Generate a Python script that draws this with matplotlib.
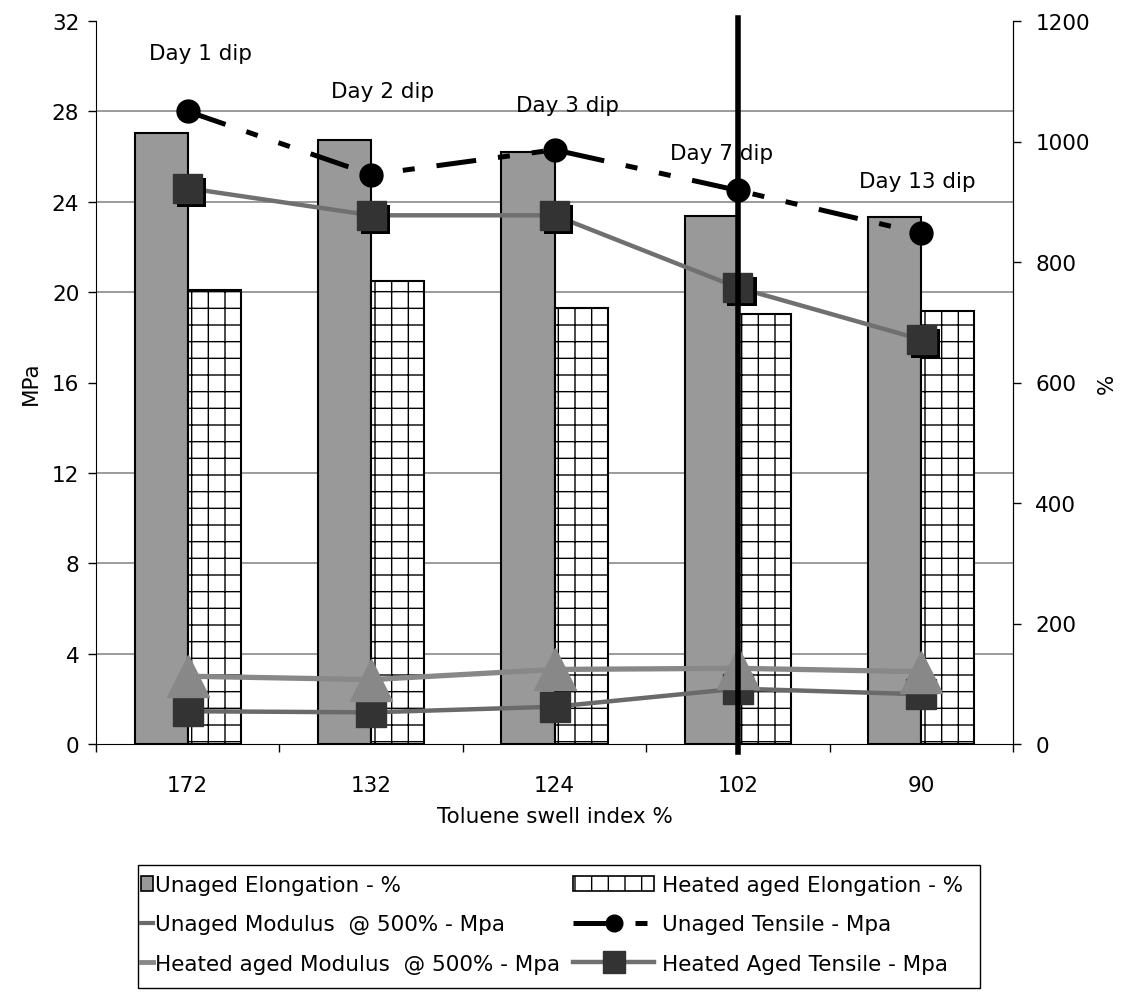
import numpy as np
import matplotlib.pyplot as plt
import matplotlib.patheffects as pe
from matplotlib.lines import Line2D
from matplotlib.patches import Patch, Rectangle

plt.rcParams['font.family'] = ['DejaVu Sans']
plt.rcParams['font.size'] = 15.5
plt.rcParams['hatch.linewidth'] = 1.0
plt.rcParams['hatch.color'] = '#7a7a7a'

# toluene swell index for each dip
swell_index = ['172', '132', '124', '102', '90']
dip_labels = ['Day 1 dip', 'Day 2 dip', 'Day 3 dip', 'Day 7 dip', 'Day 13 dip']
marked_index = '102'

# elongation at break, % (right axis)
unaged_elong = [1014, 1003, 982, 877, 874]
heated_elong = [754, 768, 724, 714, 718]

# tensile / modulus, MPa (left axis)
unaged_tensile = [28.0, 25.2, 26.3, 24.5, 22.6]
heated_tensile = [24.6, 23.4, 23.4, 20.2, 17.9]
unaged_modulus = [1.45, 1.4, 1.65, 2.45, 2.2]
heated_modulus = [3.0, 2.85, 3.3, 3.35, 3.2]

# where each day label sits relative to its point (points)
label_offsets = [(9, 42), (8, 60), (9, 32), (-12, 27), (-3, 38)]

x = np.arange(len(swell_index))
W, H = 1126, 995

fig = plt.figure(figsize=(W / 100, H / 100), dpi=100)
ax = fig.add_axes([96 / W, 1 - 745 / H, 917 / W, 723 / H])
ax2 = ax.twinx()
ax.set_zorder(2)
ax2.set_zorder(1)
ax.patch.set_visible(False)

# bars on the % axis
bw = 0.29
ax2.bar(x, unaged_elong, width=-bw, align='edge', color='#999999',
        edgecolor='black', linewidth=1.5, zorder=2)
ax2.bar(x, heated_elong, width=bw, align='edge', color='white',
        edgecolor='black', linewidth=1.5, hatch='+', zorder=2)
ax2.set_ylim(0, 1200)
ax2.set_yticks(np.arange(0, 1201, 200))
ax2.set_yticks(np.arange(0, 1201, 150), minor=True)
ax2.grid(which='minor', axis='y', color='#808080', linewidth=1.1, zorder=0)
ax2.set_axisbelow(True)
ax2.tick_params(axis='y', which='major', direction='out', length=6, width=1, pad=10)
ax2.tick_params(axis='y', which='minor', length=0)
ax2.set_ylabel('%', labelpad=5)

# lines on the MPa axis
ax.plot(x, heated_tensile, color='#707070', linewidth=3.2, zorder=3)
ax.plot(x, heated_tensile, linestyle='none', marker='s', markersize=21,
        color='#333333', zorder=4,
        path_effects=[pe.SimplePatchShadow(offset=(3, -3), shadow_rgbFace='black', alpha=1.0),
                      pe.Normal()])
ax.plot(x, unaged_tensile, color='black', linewidth=3.6,
        linestyle=(0, (8, 4.4, 2.4, 4.4, 2.4, 4.4)),
        marker='o', markersize=16.5, zorder=5)
ax.plot(x, unaged_modulus, color='#6a6a6a', linewidth=3.2, marker='s',
        markersize=21, markerfacecolor='#333333', markeredgecolor='#333333', zorder=3)
ax.plot(x, heated_modulus, color='#888888', linewidth=3.8, marker='^',
        markersize=30, zorder=4)

for i, txt in enumerate(dip_labels):
    ax.annotate(txt, (x[i], unaged_tensile[i]), xytext=label_offsets[i],
                textcoords='offset points', ha='center', va='center', zorder=6)

ax.axvline(swell_index.index(marked_index), ymin=-0.011, ymax=1.004,
           color='black', linewidth=4, clip_on=False, zorder=10)

ax.set_ylim(0, 32)
ax.set_yticks(np.arange(0, 33, 4))
ax.set_xlim(-0.5, len(x) - 0.5)
ax.set_xticks(x)
ax.set_xticklabels(swell_index)
ax.set_xticks(np.arange(-0.5, len(x), 1.0), minor=True)
ax.tick_params(axis='x', which='major', length=0, pad=22)
ax.tick_params(axis='x', which='minor', direction='out', length=6, width=1)
ax.tick_params(axis='y', direction='out', length=6, width=1, pad=6)
ax.set_ylabel('MPa', labelpad=8)
ax.set_xlabel('Toluene swell index %', labelpad=8)

for a in (ax, ax2):
    a.spines['top'].set_visible(False)
ax2.spines['left'].set_visible(False)
ax2.spines['bottom'].set_visible(False)

# legend: frame plus two columns of entries
fig.patches.append(Rectangle((138 / W, 1 - 989 / H), 842 / W, 123 / H,
                             transform=fig.transFigure, facecolor='white',
                             edgecolor='black', linewidth=1.0, zorder=0))

left_handles = [
    Patch(facecolor='#999999', edgecolor='black', linewidth=1.2),
    Line2D([], [], color='#6a6a6a', linewidth=3),
    Line2D([], [], color='#888888', linewidth=3.5),
]
left_labels = ['Unaged Elongation - %', 'Unaged Modulus  @ 500% - Mpa',
               'Heated aged Modulus  @ 500% - Mpa']
right_handles = [
    Patch(facecolor='white', edgecolor='black', linewidth=1.2, hatch='+'),
    Line2D([], [], color='black', linewidth=3.6,
           linestyle=(0, (8, 4.4, 2.4, 4.4, 2.4, 4.4)), marker='o', markersize=12),
    Line2D([], [], color='#707070', linewidth=3.2, marker='s', markersize=16.5,
           markerfacecolor='#333333', markeredgecolor='#333333'),
]
right_labels = ['Heated aged Elongation - %', 'Unaged Tensile - Mpa',
                'Heated Aged Tensile - Mpa']

leg_opts = dict(loc='upper left', frameon=False, borderpad=0, borderaxespad=0,
                labelspacing=0.9)
fig.legend(left_handles, left_labels, bbox_to_anchor=(141 / W, 1 - 876 / H),
           handlelength=0.55, handletextpad=0.12, **leg_opts)
fig.legend(right_handles, right_labels, bbox_to_anchor=(573 / W, 1 - 876 / H),
           handlelength=3.77, handletextpad=0.37, **leg_opts)

fig.savefig('out.png', dpi=100)
